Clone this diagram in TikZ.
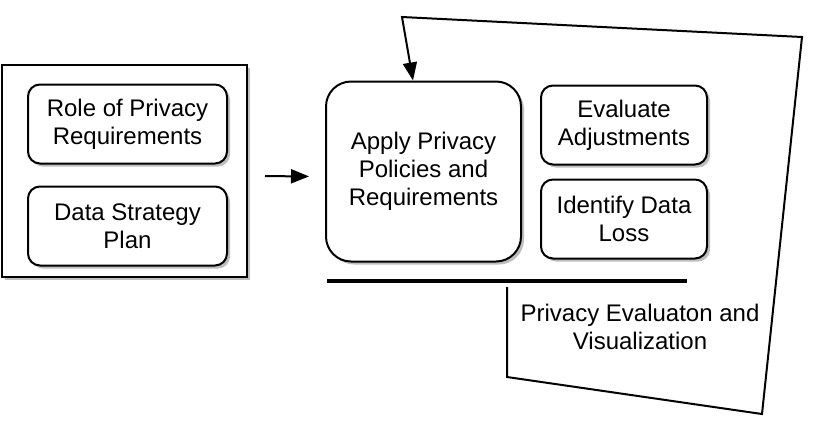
\documentclass[tikz,border=0pt]{standalone}
\usepackage{fontspec}
\setmainfont{Liberation Sans}
\usepackage{xcolor}
\usepackage{tikz}
\definecolor{shadowgray}{RGB}{190,190,190}
\usetikzlibrary{shapes,arrows.meta,positioning,shadows,calc}

\begin{document}
\begin{tikzpicture}[
    x=0.5pt, y=-0.5pt,
    font=\fontsize{12}{14}\selectfont,
    group/.style={rectangle, draw, line width=1pt, fill=white, minimum width=122.5pt, minimum height=106pt, drop shadow={shadow xshift=1.5pt, shadow yshift=-1.5pt, fill=shadowgray, opacity=1}},
    task/.style={rectangle, draw, line width=1pt, fill=white, align=center, rounded corners=6pt, minimum height=39.5pt, drop shadow={shadow xshift=1.5pt, shadow yshift=-1.5pt, fill=shadowgray, opacity=1}},
    mainstep/.style={rectangle, draw, line width=1pt, fill=white, align=center, rounded corners=12.5pt, minimum width=97.5pt, minimum height=90pt, drop shadow={shadow xshift=1.5pt, shadow yshift=-1.5pt, fill=shadowgray, opacity=1}},
    arrow/.style={-{Triangle[length=9pt,width=7pt]}, line width=1pt}
]
\useasboundingbox (0,0) rectangle (820,436);

% Input Group
\node[group] (inputs) at (124.5,171) {};
\node[task, minimum width=99.5pt] (role) at (127.5,124) {Role of Privacy\\Requirements};
\node[task, minimum width=99.5pt, below=10.5pt of role] (strategy) {Data Strategy\\Plan};

% Main Step
\node[mainstep] (apply) at (423.5,171.5) {Apply Privacy\\Policies and\\Requirements};
\node[task, minimum width=83pt] (adjust) at (624,125) {Evaluate\\Adjustments};
\node[task, minimum width=83pt, below=6.5pt of adjust] (loss) {Identify Data\\Loss};

% Evaluation Bar
\coordinate (barL) at (327,281);
\coordinate (barR) at (687,281);
\draw[line width=2pt] (barL) -- (barR);
\node[align=center] (evalviz) at (640,327) {Privacy Evaluaton and\\Visualization};

% Arrows
\draw[arrow, shorten <=8.5pt, shorten >=8pt] ([yshift=-2.5pt]inputs.east) -- ([yshift=-2.5pt]apply.west);
\coordinate (loopstart) at (507,287);
\draw[arrow, line join=miter] (loopstart) -- (507,377) -- (762,414) -- (802,37) -- (402,17) -- ([xshift=-5.25pt]apply.north);

\end{tikzpicture}
\end{document}
